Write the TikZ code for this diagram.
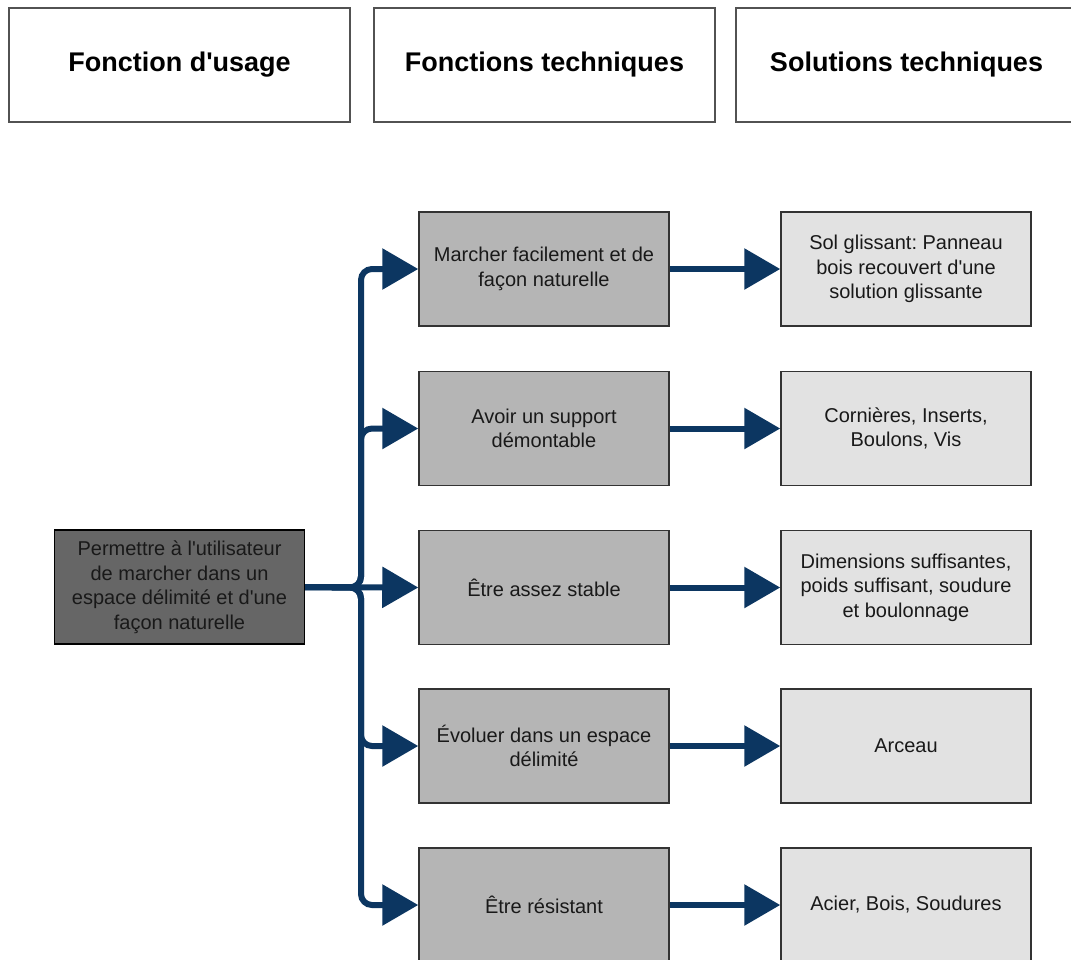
\documentclass[tikz,border=0pt]{standalone}
\usepackage{fontspec}
\setmainfont{Liberation Sans}
\usetikzlibrary{arrows.meta}
\definecolor{navy}{RGB}{12,54,97}
\definecolor{darkfill}{RGB}{102,102,102}
\definecolor{midfill}{RGB}{181,181,181}
\definecolor{lightfill}{RGB}{226,226,226}
\definecolor{edge}{RGB}{51,51,51}
\newcommand{\apo}{\textquotesingle}
\tikzset{
  header/.style={draw=edge!85, line width=1.5pt, fill=white, minimum width=341pt, minimum height=114pt, inner sep=0pt, font=\fontsize{27}{32}\selectfont\bfseries, text=black},
  basebox/.style={draw=edge, line width=1.5pt, minimum width=250pt, minimum height=114pt, inner sep=0pt, align=center, font=\fontsize{20}{24.5}\selectfont, text=black!90},
  srcbox/.style={basebox, fill=darkfill, draw=black, text=black!90},
  funcbox/.style={basebox, fill=midfill},
  solbox/.style={basebox, fill=lightfill},
  conn/.style={draw=navy, line width=6pt, -{Triangle[length=36pt,width=40pt]}, rounded corners=11pt}
}
\frenchspacing
\begin{document}
\begin{tikzpicture}[x=1pt,y=-1pt]
\useasboundingbox (0,0) rectangle (1071,959);
\node[header] (h1) at (179.5,65) {Fonction d\apo usage};
\node[header] (h2) at (544.5,65) {Fonctions techniques};
\node[header] (h3) at (906.5,65) {Solutions techniques};

\node[srcbox] (L) at (179.5,587) {Permettre à l\apo utilisateur\\de marcher dans un\\espace délimité et d\apo une\\façon naturelle};

\node[funcbox] (m1) at (544,269) {Marcher facilement et de\\façon naturelle};
\node[funcbox] (m2) at (544,428.5) {Avoir un support\\démontable};
\node[funcbox] (m3) at (544,587.5) {Être assez stable};
\node[funcbox] (m4) at (544,746) {Évoluer dans un espace\\délimité};
\node[funcbox] (m5) at (544,905) {Être résistant};

\node[solbox] (r1) at (906,269) {Sol glissant: Panneau\\bois recouvert d\apo une\\solution glissante};
\node[solbox] (r2) at (906,428.5) {Cornières, Inserts,\\Boulons, Vis};
\node[solbox] (r3) at (906,587.5) {Dimensions suffisantes,\\poids suffisant, soudure\\et boulonnage};
\node[solbox] (r4) at (906,746) {Arceau};
\node[solbox] (r5) at (906,905) {Acier, Bois, Soudures};

\coordinate (bus) at (361,587.5);
\draw[conn] (L.east) -- (bus) |- (m1.west);
\draw[conn] (L.east) -- (bus) |- (m2.west);
\draw[conn] (L.east) -- (m3.west);
\draw[conn] (L.east) -- (bus) |- (m4.west);
\draw[conn] (L.east) -- (bus) |- (m5.west);

\draw[conn] (m1.east) -- (r1.west);
\draw[conn] (m2.east) -- (r2.west);
\draw[conn] (m3.east) -- (r3.west);
\draw[conn] (m4.east) -- (r4.west);
\draw[conn] (m5.east) -- (r5.west);
\end{tikzpicture}
\end{document}
